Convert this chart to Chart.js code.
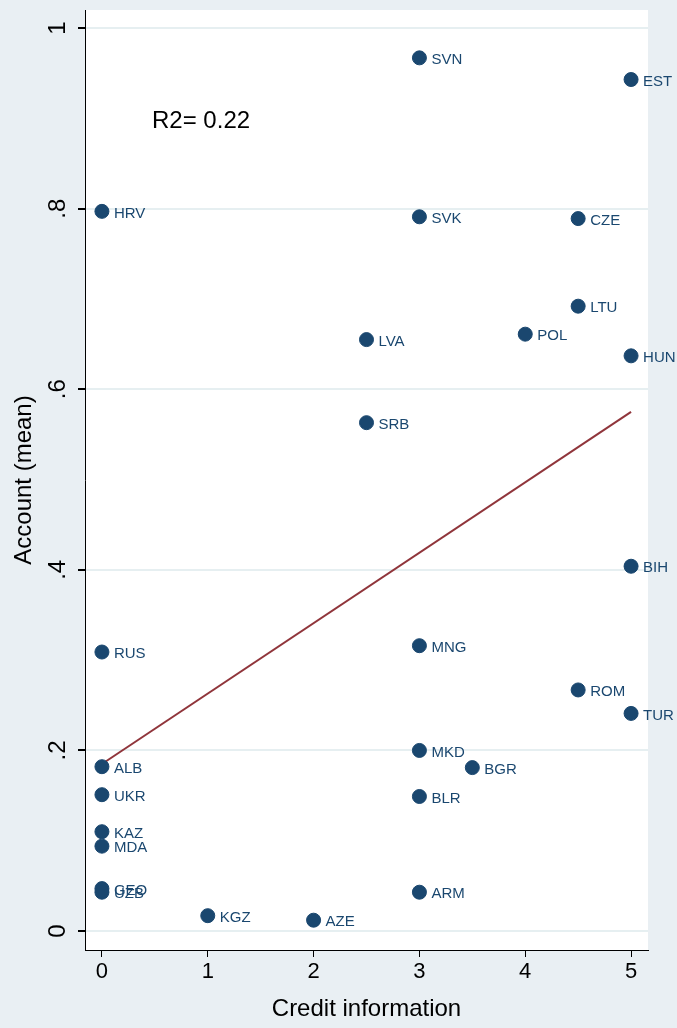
<!DOCTYPE html><html><head><meta charset="utf-8">
<script src="https://cdn.jsdelivr.net/npm/chart.js@4"></script>
<style>body{margin:0;background:#e9eff3}#w{width:677px;height:1028px}</style></head><body>
<div id="w"><canvas id="c"></canvas></div>
<script>
const countries=["SVN","EST","HRV","SVK","CZE","LTU","POL","HUN","LVA","SRB","BIH","RUS","MNG","ROM","TUR","ALB","MKD","BGR","UKR","BLR","KAZ","MDA","GEO","UZB","ARM","KGZ","AZE"];
const creditInfo=[3,5,0,3,4.5,4.5,4,5,2.5,2.5,5,0,3,4.5,5,0,3,3.5,0,3,0,0,0,0,3,1,2];
const account=[0.967,0.943,0.797,0.791,0.789,0.692,0.661,0.637,0.655,0.563,0.404,0.309,0.316,0.267,0.241,0.182,0.200,0.181,0.151,0.149,0.110,0.094,0.047,0.043,0.043,0.017,0.012];
const fitX=[0,5], fitY=[0.185,0.575];
const yTicks=[0,0.2,0.4,0.6,0.8,1], yTickLabels=["0",".2",".4",".6",".8","1"];
const pts=creditInfo.map((x,i)=>({x:x,y:account[i]}));
const ff="'Liberation Sans', Arial, sans-serif";
const plug={id:'p',
 beforeDraw(c){const {ctx,chartArea:a}=c;ctx.save();ctx.fillStyle='#e9eff3';ctx.fillRect(0,0,c.width,c.height);ctx.fillStyle='#fff';ctx.fillRect(a.left,a.top,a.right-a.left,a.bottom-a.top);ctx.restore();},
 afterDraw(c){const {ctx}=c;const xs=c.scales.x,ys=c.scales.y;ctx.save();
  ctx.fillStyle='#1a476f';ctx.font='15px '+ff;ctx.textBaseline='middle';
  countries.forEach((n,i)=>{ctx.fillText(n,xs.getPixelForValue(creditInfo[i])+12,ys.getPixelForValue(account[i])+2);});
  ctx.fillStyle='#000';ctx.font='24px '+ff;ctx.textAlign='center';
  yTicks.forEach((v,i)=>{ctx.save();ctx.translate(58,ys.getPixelForValue(v));ctx.rotate(-Math.PI/2);ctx.fillText(yTickLabels[i],0,0);ctx.restore();});
  ctx.save();ctx.translate(24,(c.chartArea.top+c.chartArea.bottom)/2);ctx.rotate(-Math.PI/2);ctx.fillText("Account (mean)",0,0);ctx.restore();
  ctx.textAlign='left';ctx.fillText("R2= 0.22",152,121);
  ctx.restore();}};
new Chart(document.getElementById('c'),{type:'scatter',
 data:{datasets:[
  {data:pts,backgroundColor:'#1a476f',borderColor:'#1a476f',pointRadius:7,pointHoverRadius:7},
  {type:'line',data:fitX.map((x,i)=>({x:x,y:fitY[i]})),borderColor:'#90353b',borderWidth:2,pointRadius:0,fill:false}]},
 options:{responsive:true,maintainAspectRatio:false,animation:false,
  layout:{padding:{top:10,right:29,left:0,bottom:0}},
  plugins:{legend:{display:false},tooltip:{enabled:false}},
  scales:{
   x:{min:-0.16,max:5.16,afterFit(s){s.height=78;},
    afterBuildTicks(s){s.ticks=[0,1,2,3,4,5].map(v=>({value:v}));},
    ticks:{color:'#000',font:{size:22,family:ff},padding:2,maxRotation:0},
    grid:{display:true,drawOnChartArea:false,tickLength:7,color:'#000'},
    border:{color:'#000'},
    title:{display:true,text:'Credit information',color:'#000',font:{size:24,family:ff},padding:{top:-4}}},
   y:{min:-0.021,max:1.02,afterFit(s){s.width=85;},
    afterBuildTicks(s){s.ticks=yTicks.map(v=>({value:v}));},
    ticks:{callback:()=>'',padding:0},
    grid:{color:'#e6eff1',lineWidth:2,tickLength:7,tickColor:'#000'},
    border:{color:'#000'}}}},
 plugins:[plug]});
</script></body></html>
